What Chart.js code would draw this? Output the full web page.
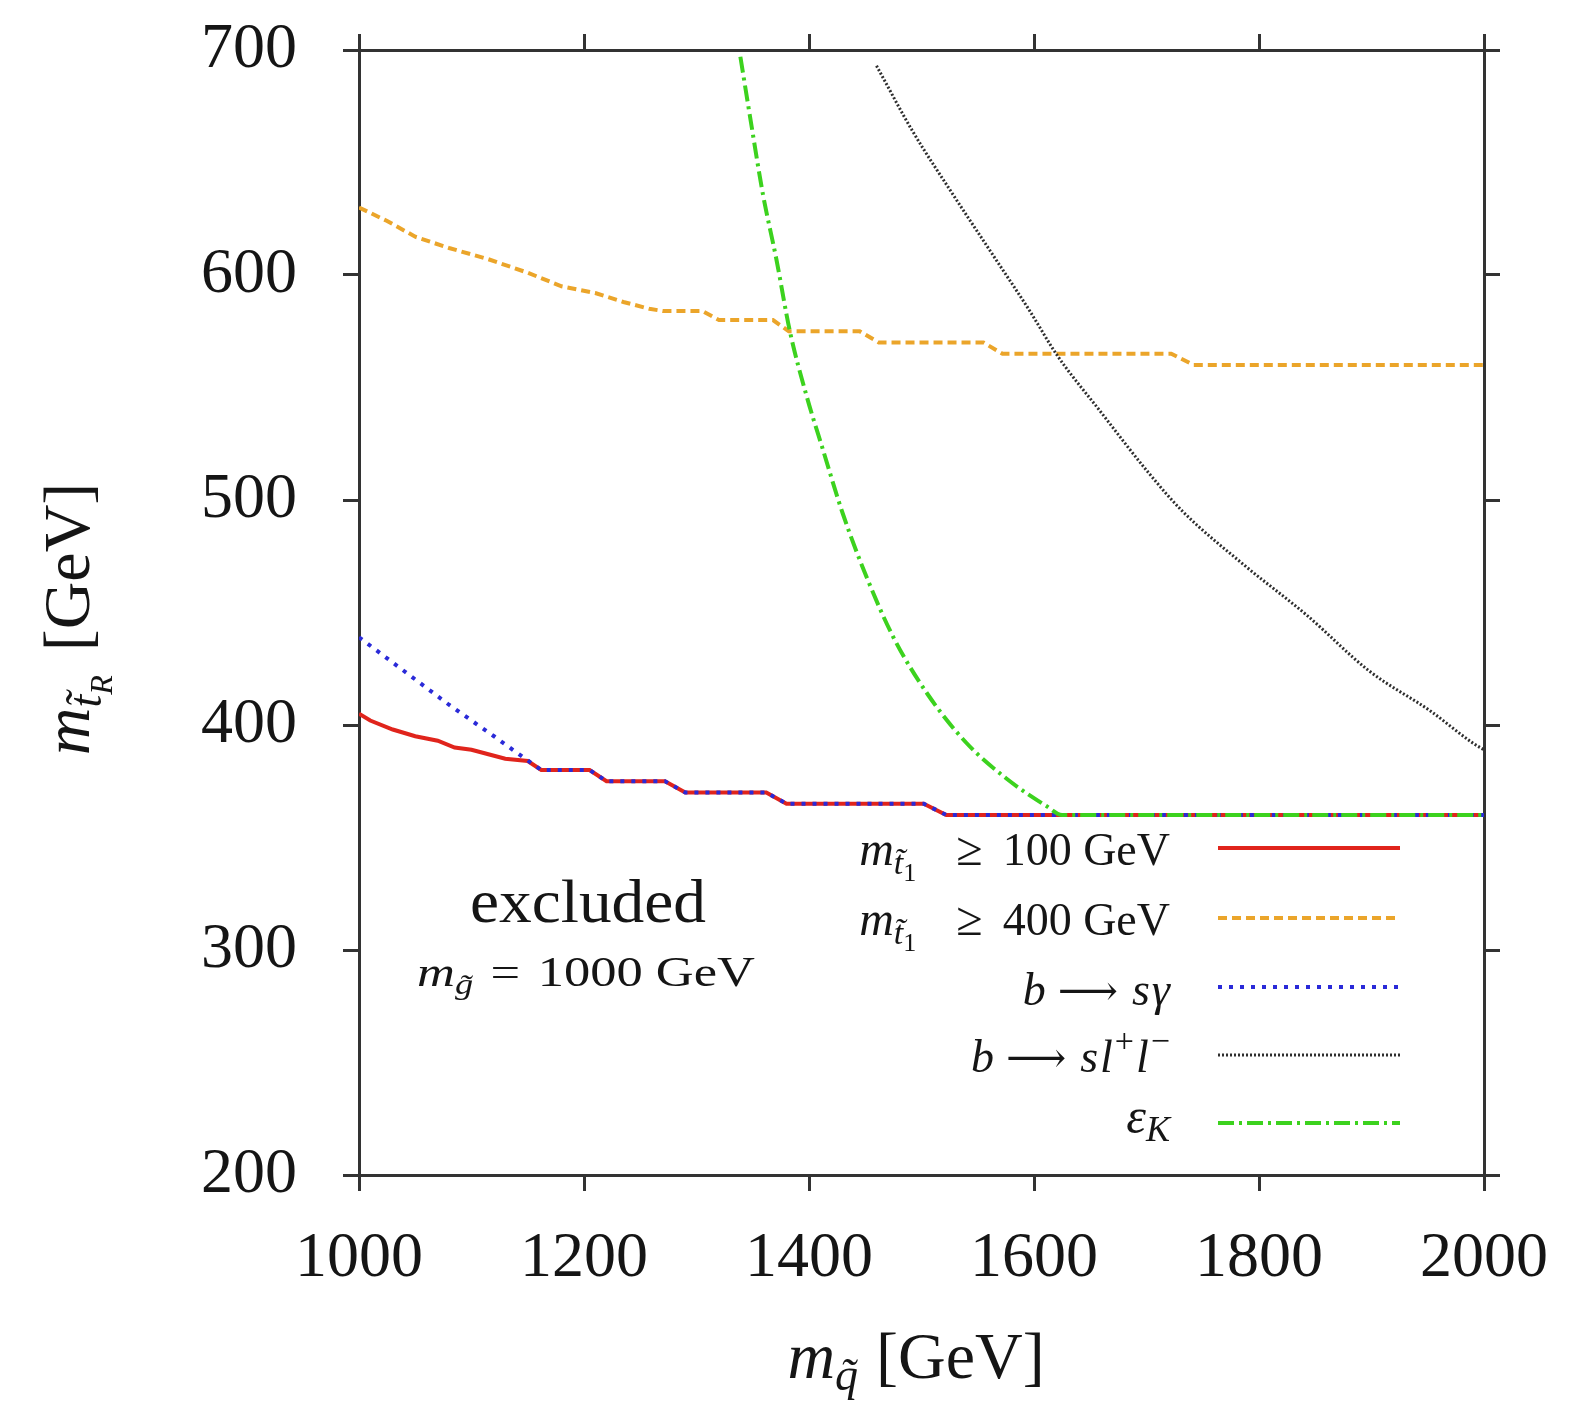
<!DOCTYPE html>
<html>
<head>
<meta charset="utf-8">
<script src="https://cdn.jsdelivr.net/npm/chart.js@4.4.0/dist/chart.umd.min.js"></script>
<style>
  html, body { margin: 0; padding: 0; background: #fff; }
  canvas { display: block; }
</style>
</head>
<body>
<canvas id="limits" width="1572" height="1406"></canvas>
<script>
// tick values of both axes (GeV)
const xTicks = [1000, 1200, 1400, 1600, 1800, 2000];
const yTicks = [200, 300, 400, 500, 600, 700];

// m_stop1 >= 100 GeV (red, solid)
const stop100X = [1000, 1010, 1030, 1050, 1070, 1085, 1100, 1115, 1130, 1150, 1162, 1205, 1220, 1272, 1290, 1362, 1380, 1502, 1522, 2000];
const stop100Y = [405, 402, 398, 395, 393, 390, 389, 387, 385, 384, 380, 380, 375, 375, 370, 370, 365, 365, 360, 360];

// m_stop1 >= 400 GeV (orange, dashed)
const stop400X = [1000, 1025, 1050, 1080, 1115, 1150, 1180, 1210, 1235, 1258, 1270, 1305, 1320, 1368, 1382, 1445, 1462, 1555, 1572, 1722, 1742, 2000];
const stop400Y = [630, 624, 617, 612, 607, 601, 595, 592, 588, 585, 584, 584, 580, 580, 575, 575, 570, 570, 565, 565, 560, 560];

// b -> s gamma (blue, dotted)
const bsgX = [1000, 1040, 1080, 1120, 1145, 1162, 1205, 1220, 1272, 1290, 1362, 1380, 1502, 1522, 2000];
const bsgY = [439, 424, 409, 395, 386, 380, 380, 375, 375, 370, 370, 365, 365, 360, 360];

// b -> s l+ l- (black, fine dots)
const bsllX = [1460, 1492, 1529, 1566, 1595, 1621, 1658, 1702, 1732, 1787, 1842, 1898, 1953, 1990, 2000];
const bsllY = [693, 664, 635, 607, 585, 564, 540, 512, 495, 471, 449, 424, 406, 392, 389];

// epsilon_K (green, dash-dot)
const epsKX = [1339, 1349, 1359, 1371, 1383, 1398, 1412, 1430, 1451, 1475, 1505, 1540, 1576, 1611, 1625, 2000];
const epsKY = [697, 666, 636, 607, 575, 546, 523, 494, 466, 439, 414, 392, 376, 364, 360, 360];

const serif = '"Liberation Serif", "DejaVu Serif", serif';
const inkColor = '#151515';
const frameColor = '#333';

const pts = (xs, ys) => xs.map((x, i) => ({ x: x, y: ys[i] }));
const font = (size, italic) => (italic ? 'italic ' : '') + size + 'px ' + serif;

// draws a sequence of text runs (sub/superscripts, accents, extra gaps) on one baseline;
// fit stretches the whole run horizontally to a given width
function drawRuns(ctx, runs, x, y, align, fit) {
    let total = 0;
    runs.forEach(r => {
        ctx.font = font(r.size, r.italic);
        r.w = ctx.measureText(r.text).width;
        total += r.w + (r.gap || 0);
    });
    const sx = fit ? fit / total : 1;
    const width = total * sx;
    const left = align === 'right' ? x - width : align === 'center' ? x - width / 2 : x;
    ctx.save();
    ctx.translate(left, y);
    ctx.scale(sx, 1);
    ctx.textAlign = 'left';
    ctx.textBaseline = 'alphabetic';
    let cx = 0;
    runs.forEach(r => {
        ctx.font = font(r.size, r.italic);
        ctx.fillText(r.text, cx, r.dy || 0);
        cx += r.w + (r.gap || 0);
    });
    ctx.restore();
}

const T = 't\u0303', Q = 'q\u0303', G = 'g\u0303';
const longArrow = '\u27F6';

const labelRuns = {
    stop100: [
        { text: 'm', size: 48, italic: true },
        { text: T, size: 34, italic: true, dy: 9 },
        { text: '1', size: 26, dy: 16, gap: 40 },
        { text: '≥', size: 48, gap: 20 },
        { text: '100 GeV', size: 46 }
    ],
    stop400: [
        { text: 'm', size: 48, italic: true },
        { text: T, size: 34, italic: true, dy: 9 },
        { text: '1', size: 26, dy: 16, gap: 40 },
        { text: '≥', size: 48, gap: 20 },
        { text: '400 GeV', size: 46 }
    ],
    bsg: [
        { text: 'b', size: 46, italic: true, gap: 12 },
        { text: longArrow, size: 42, gap: 14 },
        { text: 's', size: 46, italic: true, gap: 2 },
        { text: 'γ', size: 46, italic: true }
    ],
    bsll: [
        { text: 'b', size: 46, italic: true, gap: 12 },
        { text: longArrow, size: 42, gap: 14 },
        { text: 's', size: 46, italic: true, gap: 2 },
        { text: 'l', size: 46, italic: true, gap: 2 },
        { text: '+', size: 34, dy: -20, gap: 2 },
        { text: 'l', size: 46, italic: true, gap: 2 },
        { text: '−', size: 34, dy: -20 }
    ],
    epsK: [
        { text: 'ε', size: 50, italic: true },
        { text: 'K', size: 36, italic: true, dy: 8 }
    ]
};

// legend rows top to bottom: key, line height (px), baseline shift of the label
const legendOrder = ['stop100', 'stop400', 'bsg', 'bsll', 'epsK'];
const legendShift = [17, 17, 18, 17, 10];

const annotations = {
    id: 'annotations',
    afterDraw(chart) {
        const ctx = chart.ctx;
        ctx.save();
        ctx.fillStyle = inkColor;

        // y axis title, rotated
        ctx.save();
        ctx.translate(89, 619);
        ctx.rotate(-Math.PI / 2);
        drawRuns(ctx, [
            { text: 'm', size: 66, italic: true },
            { text: T, size: 46, italic: true, dy: 12 },
            { text: 'R', size: 32, italic: true, dy: 23, gap: 24 },
            { text: '[GeV]', size: 66 }
        ], 0, 0, 'center');
        ctx.restore();

        // x axis title
        drawRuns(ctx, [
            { text: 'm', size: 66, italic: true },
            { text: Q, size: 46, italic: true, dy: 12, gap: 18 },
            { text: '[GeV]', size: 66 }
        ], 916, 1378, 'center');

        // region label
        drawRuns(ctx, [{ text: 'excluded', size: 62 }], 588, 922, 'center', 236);
        drawRuns(ctx, [
            { text: 'm', size: 42, italic: true },
            { text: G, size: 29, italic: true, dy: 8, gap: 14 },
            { text: '=', size: 42, gap: 14 },
            { text: '1000 GeV', size: 42 }
        ], 586, 986, 'center', 338);

        // legend
        const rowY = [848, 918, 987, 1055, 1123];
        legendOrder.forEach((key, i) => {
            const ds = chart.data.datasets.find(d => d.key === key);
            const y = rowY[i];
            ctx.fillStyle = inkColor;
            drawRuns(ctx, labelRuns[key], 1170, y + legendShift[i], 'right');
            ctx.save();
            ctx.strokeStyle = ds.borderColor;
            ctx.lineWidth = ds.borderWidth;
            ctx.setLineDash(ds.borderDash || []);
            ctx.beginPath();
            ctx.moveTo(1218, y);
            ctx.lineTo(1400, y);
            ctx.stroke();
            ctx.restore();
        });
        ctx.restore();
    }
};

const tickFont = { family: serif, size: 64, lineHeight: 1.2 };
const gridStyle = { drawOnChartArea: false, drawTicks: true, tickLength: 16, color: frameColor, lineWidth: 3 };
const borderStyle = { display: true, width: 3, color: frameColor };

// fixed box sizes so the plot frame lands where the reference has it
const fixBox = (w, h) => s => {
    if (w !== null) s.width = w;
    if (h !== null) s.height = h;
    s.paddingLeft = s.paddingRight = s.paddingTop = s.paddingBottom = 0;
};

// datasets listed top-most first (Chart.js paints the last one first)
const datasets = [
    { key: 'epsK', data: pts(epsKX, epsKY), borderColor: '#3cd21e', borderWidth: 4, borderDash: [16, 5, 3, 5], cubicInterpolationMode: 'monotone' },
    { key: 'bsg', data: pts(bsgX, bsgY), borderColor: '#2a2ad8', borderWidth: 4, borderDash: [4, 7] },
    { key: 'bsll', data: pts(bsllX, bsllY), borderColor: '#2e2e2e', borderWidth: 3, borderDash: [2, 2], cubicInterpolationMode: 'monotone' },
    { key: 'stop400', data: pts(stop400X, stop400Y), borderColor: '#eba52a', borderWidth: 4, borderDash: [9, 5] },
    { key: 'stop100', data: pts(stop100X, stop100Y), borderColor: '#e0241c', borderWidth: 4 }
];

new Chart(document.getElementById('limits'), {
    type: 'scatter',
    data: { datasets: datasets.map(d => Object.assign({ showLine: true, pointRadius: 0, fill: false }, d)) },
    options: {
        responsive: false,
        animation: false,
        layout: { padding: 0 },
        plugins: { legend: { display: false }, tooltip: { enabled: false } },
        scales: {
            x: {
                type: 'linear', position: 'bottom', min: 1000, max: 2000,
                afterBuildTicks: s => { s.ticks = xTicks.map(v => ({ value: v })); },
                afterFit: fixBox(null, 231),
                ticks: { font: tickFont, color: inkColor, padding: 30, maxRotation: 0, autoSkip: false, callback: v => String(v) },
                grid: gridStyle, border: borderStyle
            },
            x2: {
                type: 'linear', position: 'top', min: 1000, max: 2000,
                afterBuildTicks: s => { s.ticks = xTicks.map(v => ({ value: v })); },
                afterFit: fixBox(null, 50),
                ticks: { display: false },
                grid: gridStyle, border: borderStyle
            },
            y: {
                type: 'linear', position: 'left', min: 200, max: 700,
                afterBuildTicks: s => { s.ticks = yTicks.map(v => ({ value: v })); },
                afterFit: fixBox(359, null),
                ticks: { font: tickFont, color: inkColor, padding: 46, autoSkip: false, callback: v => String(v) },
                grid: gridStyle, border: borderStyle
            },
            y2: {
                type: 'linear', position: 'right', min: 200, max: 700,
                afterBuildTicks: s => { s.ticks = yTicks.map(v => ({ value: v })); },
                afterFit: fixBox(88, null),
                ticks: { display: false },
                grid: gridStyle, border: borderStyle
            }
        }
    },
    plugins: [annotations]
});
</script>
</body>
</html>
